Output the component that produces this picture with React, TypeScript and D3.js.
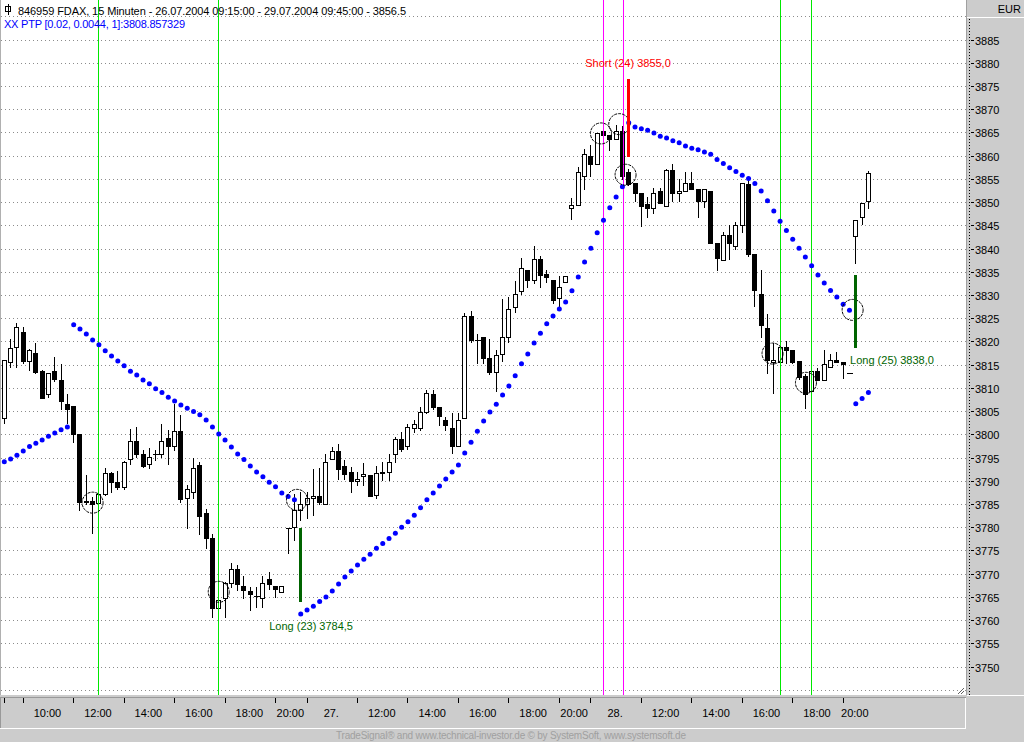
import React from 'react';
import * as d3 from 'd3';

// ---------- DATA (15-min FDAX bars, index 0..137) ----------
const opens = [
  3803.6, 3815.5, 3818.9, 3822.0, 3815.9, 3817.5, 3813.7, 3808.6, 3813.7, 3811.7,
  3806.6, 3806.1, 3800.1, 3785.5, 3785.7, 3785.2, 3787.2, 3791.6, 3789.8, 3788.6,
  3794.6, 3798.5, 3795.7, 3793.6, 3795.7, 3795.7, 3799.2, 3797.6, 3800.7, 3786.2,
  3787.7, 3793.3, 3783.1, 3777.7, 3762.7, 3764.7, 3768.0, 3771.1, 3767.3, 3766.2,
  3765.2, 3764.7, 3768.8, 3767.4, 3766.1, 3779.9, 3780.1, 3783.7, 3785.1, 3786.2,
  3786.7, 3785.1, 3794.6, 3796.4, 3793.1, 3791.9, 3790.0, 3791.0, 3791.2, 3787.0,
  3791.7, 3791.9, 3795.7, 3799.1, 3797.5, 3801.4, 3801.4, 3804.8, 3808.6, 3806.0,
  3803.0, 3801.4, 3797.5, 3803.6, 3825.4, 3820.4, 3821.0, 3816.5, 3813.5, 3817.4,
  3821.0, 3827.4, 3830.9, 3835.5, 3833.3, 3837.8, 3834.5, 3833.3, 3829.4, 3832.9,
  3848.8, 3849.3, 3855.7, 3859.9, 3858.3, 3865.3, 3864.4, 3863.7, 3865.3, 3856.4,
  3854.2, 3851.9, 3849.5, 3848.8, 3852.4, 3849.2, 3856.9, 3851.9, 3852.4, 3854.2,
  3852.9, 3850.3, 3852.4, 3841.3, 3837.5, 3842.9, 3840.5, 3845.0, 3853.9, 3838.9,
  3830.3, 3822.9, 3815.6, 3815.5, 3818.9, 3818.2, 3815.7, 3812.6, 3809.4, 3813.6,
  3811.7, 3814.4, 3816.0, 3815.6, 3813.3, 3842.7, 3846.8, 3850.2,
];
const highs = [
  3816.0, 3820.5, 3823.9, 3823.1, 3818.3, 3819.6, 3813.9, 3813.3, 3816.7, 3815.2,
  3808.6, 3806.1, 3800.1, 3791.3, 3786.6, 3788.0, 3792.7, 3791.8, 3792.1, 3794.2,
  3801.2, 3801.6, 3796.6, 3797.0, 3796.6, 3802.2, 3801.0, 3806.5, 3804.2, 3789.1,
  3795.0, 3794.1, 3784.0, 3778.5, 3769.0, 3768.2, 3772.2, 3771.8, 3769.5, 3767.2,
  3767.2, 3769.5, 3770.4, 3767.4, 3767.4, 3779.9, 3787.2, 3787.6, 3787.6, 3792.6,
  3792.8, 3795.8, 3797.3, 3798.0, 3794.4, 3793.0, 3791.9, 3793.8, 3791.2, 3793.1,
  3794.0, 3795.8, 3799.4, 3800.5, 3802.2, 3803.0, 3806.0, 3809.5, 3809.5, 3806.0,
  3803.7, 3804.6, 3804.6, 3826.1, 3826.5, 3821.6, 3821.0, 3820.5, 3818.1, 3829.1,
  3829.5, 3833.0, 3838.0, 3835.5, 3840.5, 3838.3, 3835.5, 3833.3, 3834.0, 3834.0,
  3850.8, 3857.5, 3861.4, 3862.3, 3864.8, 3866.6, 3864.4, 3866.6, 3866.5, 3857.2,
  3854.2, 3851.9, 3851.1, 3853.1, 3853.1, 3857.2, 3858.3, 3855.0, 3856.4, 3856.4,
  3852.9, 3852.9, 3852.4, 3841.3, 3843.6, 3845.0, 3845.8, 3854.2, 3855.0, 3838.9,
  3835.5, 3826.0, 3819.6, 3819.6, 3820.0, 3818.2, 3815.7, 3813.1, 3814.2, 3814.2,
  3818.2, 3817.3, 3817.7, 3815.6, 3813.3, 3846.2, 3849.8, 3856.8,
];
const lows = [
  3802.5, 3814.4, 3814.4, 3815.3, 3813.9, 3813.3, 3807.9, 3808.0, 3811.5, 3805.5,
  3802.5, 3798.4, 3783.7, 3785.1, 3778.7, 3785.0, 3787.0, 3787.7, 3788.2, 3788.2,
  3793.6, 3795.2, 3793.0, 3792.8, 3794.5, 3795.2, 3793.6, 3796.6, 3785.4, 3779.8,
  3786.4, 3778.5, 3775.6, 3760.7, 3760.7, 3760.7, 3767.2, 3766.5, 3764.7, 3762.2,
  3762.9, 3762.9, 3766.8, 3765.0, 3766.1, 3774.5, 3777.2, 3781.6, 3781.9, 3782.6,
  3785.1, 3785.1, 3794.6, 3790.5, 3790.5, 3787.6, 3789.0, 3789.0, 3786.7, 3786.2,
  3790.1, 3790.1, 3794.0, 3796.4, 3796.8, 3800.5, 3801.0, 3804.5, 3805.5, 3802.1,
  3800.9, 3796.0, 3797.5, 3803.6, 3819.9, 3815.4, 3815.4, 3813.0, 3809.3, 3815.8,
  3819.9, 3826.4, 3830.2, 3831.7, 3832.5, 3831.7, 3832.8, 3828.3, 3827.4, 3832.9,
  3846.3, 3849.3, 3852.9, 3855.7, 3858.3, 3864.0, 3861.3, 3863.7, 3855.0, 3853.6,
  3850.3, 3844.9, 3846.8, 3847.7, 3849.9, 3849.2, 3850.3, 3850.3, 3852.4, 3852.9,
  3846.8, 3849.0, 3841.2, 3835.3, 3837.5, 3837.8, 3840.0, 3843.6, 3838.3, 3827.6,
  3821.0, 3813.3, 3809.0, 3815.0, 3815.3, 3815.3, 3812.0, 3805.6, 3805.4, 3811.7,
  3811.7, 3814.4, 3815.5, 3812.1, 3813.3, 3836.9, 3845.2, 3848.8,
];
const closes = [
  3816.0, 3818.5, 3823.1, 3815.8, 3818.1, 3813.5, 3807.9, 3813.2, 3811.9, 3807.1,
  3805.5, 3800.0, 3785.5, 3785.6, 3785.1, 3787.2, 3791.6, 3789.7, 3788.6, 3794.1,
  3798.5, 3795.7, 3793.1, 3795.1, 3795.7, 3798.5, 3797.6, 3800.7, 3786.1, 3788.2,
  3792.7, 3782.5, 3777.6, 3762.7, 3764.3, 3768.0, 3771.1, 3767.7, 3766.6, 3765.7,
  3765.2, 3768.1, 3767.7, 3766.7, 3767.4, 3779.9, 3783.7, 3785.1, 3786.2, 3786.7,
  3785.4, 3794.0, 3796.4, 3792.6, 3791.5, 3790.0, 3790.5, 3791.5, 3786.7, 3791.7,
  3792.0, 3794.0, 3799.1, 3796.9, 3801.5, 3802.2, 3804.8, 3809.0, 3805.9, 3804.0,
  3802.0, 3797.5, 3803.0, 3825.4, 3820.4, 3820.4, 3816.5, 3813.4, 3817.0, 3821.0,
  3826.9, 3830.3, 3835.9, 3833.3, 3837.8, 3834.4, 3833.9, 3828.9, 3831.7, 3834.0,
  3849.3, 3856.4, 3860.3, 3858.3, 3864.8, 3864.4, 3863.7, 3865.3, 3855.7, 3854.0,
  3851.9, 3849.2, 3848.8, 3851.9, 3849.9, 3856.9, 3851.9, 3852.4, 3854.2, 3852.9,
  3850.3, 3852.9, 3841.2, 3837.9, 3842.9, 3841.3, 3845.0, 3854.2, 3838.9, 3831.0,
  3823.5, 3816.0, 3816.0, 3818.9, 3818.2, 3815.5, 3812.4, 3808.7, 3813.6, 3811.7,
  3815.1, 3816.0, 3815.5, 3815.1, 3813.3, 3846.2, 3849.8, 3856.3,
];
// Parabolic SAR (PTP) values per bar
const sarValues = [
  3794.1, 3794.7, 3795.5, 3796.4, 3797.4, 3798.1, 3798.8, 3799.6, 3800.3, 3801.0,
  3801.6, 3823.6, 3822.7, 3821.6, 3820.3, 3819.3, 3818.0, 3816.9, 3815.8, 3814.8,
  3813.6, 3812.8, 3811.7, 3810.9, 3809.8, 3809.0, 3808.0, 3807.2, 3806.3, 3805.6,
  3804.9, 3804.2, 3803.1, 3801.6, 3800.1, 3798.8, 3797.3, 3795.8, 3794.6, 3793.2,
  3791.9, 3790.9, 3789.7, 3788.7, 3787.4, 3786.6, 3785.9, 3761.3, 3762.2, 3763.0,
  3764.0, 3765.0, 3766.3, 3767.8, 3769.3, 3770.6, 3771.9, 3773.1, 3774.2, 3775.5,
  3776.5, 3777.6, 3778.7, 3780.0, 3781.2, 3782.6, 3784.2, 3785.9, 3787.4, 3788.9,
  3790.4, 3791.9, 3793.4, 3796.0, 3798.3, 3800.7, 3802.9, 3804.8, 3806.5, 3808.5,
  3810.4, 3812.6, 3815.2, 3817.3, 3819.7, 3821.8, 3823.8, 3825.5, 3827.0, 3828.5,
  3830.9, 3833.9, 3837.1, 3840.1, 3843.4, 3846.1, 3848.8, 3851.1, 3853.3, 3867.1,
  3866.2, 3865.8, 3865.5, 3864.9, 3864.2, 3863.8, 3863.2, 3862.8, 3862.1, 3861.6,
  3861.3, 3860.8, 3860.3, 3859.2, 3858.3, 3857.4, 3856.6, 3855.8, 3855.1, 3854.0,
  3852.4, 3850.3, 3848.1, 3845.9, 3843.9, 3842.0, 3840.1, 3838.2, 3836.3, 3834.3,
  3832.6, 3831.0, 3829.6, 3828.0, 3826.7, 3806.6, 3807.7, 3809.0,
];

// Time axis
const tickBars = [0, 3, 11, 19, 27, 35, 43, 48, 56, 64, 72, 80, 88, 93, 101, 109, 117, 125, 133, 137];
const tickLabels = ['', '10:00', '12:00', '14:00', '16:00', '18:00', '20:00', '27.', '12:00', '14:00', '16:00', '18:00', '20:00', '28.', '12:00', '14:00', '16:00', '18:00', '20:00'];
const priceLabels = d3.range(3750, 3886, 5);
const gridLevels = d3.range(3745, 3891, 5);

// Vertical marker lines
const greenLineBars = [15, 34, 123, 128];
const magentaLineBars = [95, 98.1];

// Pivot circles
const circleBars = [14, 34, 46.4, 94.6, 97.5, 98.5, 121.8, 127.1, 134.5];
const circleValues = [3785.3, 3766.1, 3785.9, 3864.8, 3866.8, 3855.9, 3817.4, 3811.1, 3826.8];

// Trade signals
const signalBars = [47, 99, 135];
const signalTop = [3779.9, 3876.5, 3834.3];
const signalBottom = [3764.0, 3859.7, 3818.7];
const signalKinds = ['long', 'short', 'long'];
const signalTexts = ['Long (23) 3784,5', 'Short (24) 3855,0', 'Long (25) 3838,0'];
const signalLabelBars = [42.0, 92.1, 134.1];
const signalLabelValues = [3757.9, 3879.1, 3815.1];

const headerLine1 = '846959  FDAX, 15 Minuten - 26.07.2004 09:15:00 - 29.07.2004 09:45:00 - 3856.5';
const headerLine2 = 'XX PTP [0.02, 0.0044, 1]:3808.857329';
const footerText = 'TradeSignal\u00AE and www.technical-investor.de \u00A9 by  SystemSoft, www.systemsoft.de';

// ---------- LAYOUT ----------
const W = 1024;
const H = 742;
const PLOT_R = 966;
const PLOT_B = 695;
const FONT = '"Liberation Sans", Arial, Helvetica, sans-serif';
const PANEL = '#cccccc';
const GREEN_LINE = '#00e800';
const MAGENTA = '#ff00ff';
const DARK_GREEN = '#006400';

export default function App() {
  const x = d3.scaleLinear().domain([0, 137]).range([4.3, 868.4]);
  const y = d3.scaleLinear().domain([3750, 3885]).range([666.6, 39.6]);
  const px = (i: number) => Math.floor(x(i)) + 0.5;
  const py = (v: number) => Math.round(y(v));

  const candles = opens.map((o, i) => {
    const c = closes[i];
    const h = highs[i];
    const l = lows[i];
    const cx = px(i);
    const yH = py(h);
    const yL = py(l);
    const yT = py(Math.max(o, c));
    const yB = py(Math.min(o, c));
    const up = c >= o;
    return { i, cx, yH, yL, yT, yB, up };
  });

  return (
    <div style={{ position: 'absolute', left: 0, top: 0, width: W, height: H }}>
      <svg width={W} height={H} style={{ display: 'block' }} fontFamily={FONT}>
        {/* backgrounds */}
        <rect x={0} y={0} width={W} height={H} fill={PANEL} />
        <rect x={0} y={0} width={PLOT_R} height={PLOT_B} fill="#ffffff" />
        <g shapeRendering="crispEdges">
          <line x1={0.5} y1={0} x2={0.5} y2={PLOT_B} stroke="#b0b0b0" />
          {gridLevels.map((v) => (
            <line key={'g' + v} x1={1} x2={PLOT_R} y1={py(v) + 0.5} y2={py(v) + 0.5}
              stroke="#8c8c8c" strokeDasharray="1 3" />
          ))}
        </g>

        {/* candles */}
        <g shapeRendering="crispEdges">
          {candles.map((k) => (
            <g key={'c' + k.i}>
              {(k.yH < k.yT || k.yL > k.yB) && (
                <line x1={k.cx} x2={k.cx} y1={k.yH} y2={k.yL + 1} stroke="#000" />
              )}
              {k.yB - k.yT < 1 ? (
                <line x1={k.cx - 2.5} x2={k.cx + 3.5} y1={k.yT + 0.5} y2={k.yT + 0.5} stroke="#000" />
              ) : (
                <rect x={k.cx - 2} y={k.yT + 0.5} width={4} height={k.yB - k.yT}
                  fill={k.up ? '#ffffff' : '#000000'} stroke="#000" />
              )}
            </g>
          ))}
        </g>

        {/* vertical marker lines */}
        <g shapeRendering="crispEdges">
          {greenLineBars.map((b) => (
            <line key={'gl' + b} x1={px(b)} x2={px(b)} y1={0} y2={PLOT_B} stroke={GREEN_LINE} />
          ))}
          {magentaLineBars.map((b) => (
            <line key={'ml' + b} x1={px(b)} x2={px(b)} y1={0} y2={PLOT_B} stroke={MAGENTA} />
          ))}
        </g>

        {/* SAR dots */}
        <g>
          {sarValues.map((v, i) => (
            <circle key={'s' + i} cx={x(i)} cy={y(v)} r={2.5} fill="#0000ff" />
          ))}
        </g>

        {/* pivot circles */}
        <g>
          {circleBars.map((b, j) => (
            <circle key={'pc' + j} cx={x(b)} cy={y(circleValues[j])} r={10.5}
              fill="none" stroke="#000" strokeWidth={1} strokeDasharray="3 1" />
          ))}
        </g>

        {/* signals */}
        <g>
          {signalBars.map((b, j) => (
            <g key={'sig' + j}>
              <line x1={px(b)} x2={px(b)} y1={y(signalTop[j])} y2={y(signalBottom[j])}
                stroke={signalKinds[j] === 'long' ? DARK_GREEN : '#ff0000'} strokeWidth={3}
                shapeRendering="crispEdges" />
              <text x={x(signalLabelBars[j])} y={y(signalLabelValues[j])} fontSize={11}
                fill={signalKinds[j] === 'long' ? DARK_GREEN : '#ff0000'}>
                {signalTexts[j]}
              </text>
            </g>
          ))}
        </g>

        {/* header */}
        <g shapeRendering="crispEdges">
          <rect x={5.5} y={6.5} width={5} height={5} fill="#fff" stroke="#000" />
          <line x1={8.5} x2={8.5} y1={4} y2={15} stroke="#000" />
        </g>
        <text x={18} y={15} fontSize={11} fill="#000" textLength={388} lengthAdjust="spacing">{headerLine1}</text>
        <text x={4} y={28} fontSize={11} fill="#0000ff" textLength={181} lengthAdjust="spacing">{headerLine2}</text>

        {/* right axis panel */}
        <rect x={PLOT_R} y={0} width={W - PLOT_R} height={H} fill={PANEL} />
        <g shapeRendering="crispEdges">
          <line x1={PLOT_R + 0.5} x2={PLOT_R + 0.5} y1={0} y2={PLOT_B} stroke="#a0a0a0" />
          <line x1={PLOT_R + 1} x2={W} y1={17.5} y2={17.5} stroke="#ffffff" />
          <line x1={969.5} x2={969.5} y1={19} y2={PLOT_B} stroke="#000" strokeDasharray="1 2" />
          {priceLabels.map((v) => (
            <line key={'pt' + v} x1={971} x2={974} y1={py(v) + 0.5} y2={py(v) + 0.5} stroke="#000" />
          ))}
        </g>
        <text x={1021} y={13} fontSize={11} textAnchor="end" fill="#000">EUR</text>
        {priceLabels.map((v) => (
          <text key={'pl' + v} x={975} y={py(v) + 4.5} fontSize={11} fill="#000">{v}</text>
        ))}

        {/* bottom time axis panel */}
        <rect x={0} y={PLOT_B} width={W} height={H - PLOT_B} fill={PANEL} />
        <g shapeRendering="crispEdges">
          <line x1={0} x2={PLOT_R} y1={697.5} y2={697.5} stroke="#999999" />
          <line x1={0.5} x2={0.5} y1={697} y2={729} stroke="#999999" />
          <line x1={0} x2={965} y1={728.5} y2={728.5} stroke="#ffffff" />
          <line x1={965.5} x2={965.5} y1={698} y2={729} stroke="#ffffff" />
          <line x1={PLOT_R + 1} x2={W} y1={695.5} y2={695.5} stroke="#ffffff" />
          {tickBars.slice(0, tickBars.length - 1).map((b, j) => (
            <line key={'xt' + j} x1={px(b)} x2={px(b)} y1={698} y2={703} stroke="#000" />
          ))}
          <line x1={958} x2={964} y1={694} y2={688} stroke="#606060" />
          <line x1={961} x2={964} y1={694} y2={691} stroke="#606060" />
        </g>
        {tickLabels.map((lab, j) =>
          lab ? (
            <text key={'xl' + j} x={(x(tickBars[j]) + x(tickBars[j + 1])) / 2 - 1} y={717}
              fontSize={11} textAnchor="middle" fill="#000">{lab}</text>
          ) : null
        )}
        <text x={336} y={739} fontSize={10} fill="#a0a0a0" textLength={350} lengthAdjust="spacing">
          {footerText}
        </text>
      </svg>
    </div>
  );
}
